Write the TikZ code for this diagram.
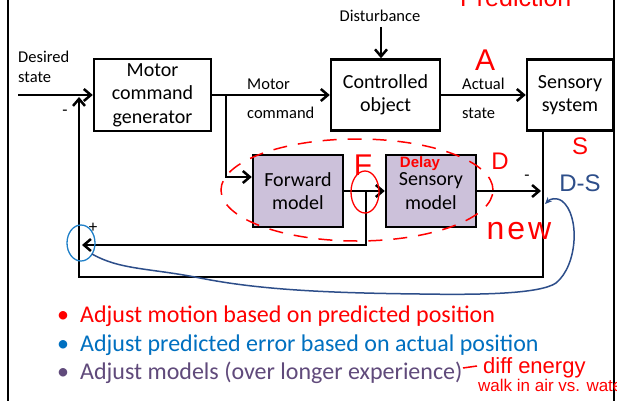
\documentclass[tikz,border=0pt]{standalone}
\usepackage{fontspec}
\setmainfont{Carlito}
\newfontfamily\hand{Liberation Sans}
\usetikzlibrary{arrows.meta}
\definecolor{modelfill}{HTML}{CCC1DA}
\definecolor{bulblue}{HTML}{0070C0}
\definecolor{bulpurple}{HTML}{604A7B}
\definecolor{circblue}{HTML}{2080C8}
\definecolor{penblue}{HTML}{2D4E8A}
\begin{document}
\begin{tikzpicture}[x=1pt,y=-1pt,
  box/.style={draw, line width=2.5pt, inner sep=0pt, align=center, font=\fontsize{20}{23.5}\selectfont},
  model/.style={box, fill=modelfill},
  lbl/.style={font=\fontsize{16.5}{19}\selectfont, inner sep=0pt, anchor=base west},
  sign/.style={font=\fontsize{17}{17}\selectfont, inner sep=0pt},
  arr/.style={line width=2.5pt, -{Straight Barb[length=7pt,width=12pt]}},
  redhand/.style={text=red, font=\hand\fontsize{#1}{#1}\selectfont, inner sep=0pt},
  bul/.style={font=\fontsize{24}{24}\selectfont, inner sep=0pt, anchor=base west},
  bdot/.style={font=\fontsize{24}{24}\selectfont, inner sep=0pt, anchor=base}
]
\useasboundingbox (0,0) rectangle (617,401);
\clip (0,0) rectangle (617,401);
\fill[white] (0,0) rectangle (617,401);
% slide frame
\coordinate (fl1) at (8,0); \coordinate (fl2) at (8,401);
\coordinate (fr1) at (614,0); \coordinate (fr2) at (614,401);
\draw[line width=2pt] (fl1) -- (fl2);
\draw[line width=2pt] (fr1) -- (fr2);

% boxes
\node[box, minimum width=117pt, minimum height=72pt] (mcg) at (152.5,95) {Motor\\command\\generator};
\node[box, minimum width=109pt, minimum height=71pt] (co) at (385.5,95) {Controlled\\object};
\node[box, minimum width=86pt, minimum height=71pt] (ss) at (570,95) {Sensory\\system};
\node[model, minimum width=90pt, minimum height=72pt] (fm) at (298,191) {Forward\\model};
\node[model, minimum width=90pt, minimum height=72pt] (sm) at (431,191) {Sensory\\model};

% labels
\node[lbl] (ds1) at (18,63) {Desired};
\node[lbl] (ds2) at (18,82) {state};
\node[lbl] (mc1) at (247,90) {Motor};
\node[lbl] (mc2) at (247,118) {command};
\node[lbl] (as1) at (462,89) {Actual};
\node[lbl] (as2) at (462,118) {state};
\node[lbl, anchor=base] (dist) at (380,22) {Disturbance};
\node[sign] (m1) at (65,113) {-};
\node[sign] (p1) at (93,228) {+};
\node[sign] (m2) at (527,178) {-};

% connectors
\coordinate (din) at (18,95);
\draw[arr] (din) -- (mcg.west);
\draw[arr] (mcg.east) -- (co.west);
\coordinate (b1) at (226,95);
\draw[arr] (b1) |- ([yshift=14pt]fm.west);
\coordinate (dtop) at (381,27);
\draw[arr] (dtop) -- (dtop |- co.north);
\draw[arr] (co.east) -- (ss.west);
\coordinate (c1) at (543,277);
\coordinate (c2) at (79,277);
\coordinate (j1) at (79,97);
\draw[arr] (c1 |- ss.south) -- (c1) -- (c2) -- (j1);
\draw[arr] (fm.east) -- (sm.west);
\coordinate (b2) at (366,191);
\coordinate (j2) at (82,245);
\draw[arr] (b2) |- (j2);
\coordinate (j3) at (541,191);
\draw[arr] (sm.east) -- (j3);

% red handwriting
\draw[red, line width=1.5pt, dash pattern=on 14pt off 11pt] (357,190) ellipse [x radius=136pt, y radius=51pt];
\draw[red, line width=1.3pt] (365,192) ellipse [x radius=14pt, y radius=21pt];
\node[redhand=25, anchor=base west] (pred) at (460,7) {Prediction};
\node[redhand=30] (A) at (485,60) {A};
\node[redhand=24] (S) at (580,146) {S};
\node[redhand=30] (F) at (363,165) {F};
\node[redhand=15] (delay) at (420,164) {\bfseries Delay};
\node[redhand=24] (D) at (500,161) {D};
\node[redhand=32] (new) at (519,231) {n\kern3pt e\kern3pt w};
\coordinate (dash1) at (463,368); \coordinate (dash2) at (477,366);
\draw[red, line width=1.5pt] (dash1) -- (dash2);
\node[redhand=22, anchor=base west] (diff) at (483,373) {diff~energy};
\node[redhand=17, anchor=base west] (walk) at (478,391) {walk in air vs. water};

% blue handwriting
\draw[circblue, line width=1.3pt] (81,243) ellipse [x radius=14pt, y radius=18pt];
\coordinate (cs) at (92,254);
\coordinate (ce) at (545,204);
\draw[penblue, line width=1.5pt, -{Stealth[length=7pt,width=6pt]}] (cs) .. controls (120,270) and (150,268) .. (200,278) .. controls (260,290) and (330,293) .. (420,294) .. controls (480,295) and (540,294) .. (556,283) .. controls (578,265) and (580,215) .. (562,201) .. controls (556,197) and (550,199) .. (ce);
\node[text=penblue, font=\hand\fontsize{24}{24}\selectfont, inner sep=0pt] (DS) at (580,183) {D-S};

% bullets
\node[bdot, text=red] (bu1) at (63,322) {•};
\node[bul, text=red] (t1) at (80,322) {Adjust motion based on predicted position};
\node[bdot, text=bulblue] (bu2) at (63,351) {•};
\node[bul, text=bulblue] (t2) at (80,351) {Adjust predicted error based on actual position};
\node[bdot, text=bulpurple] (bu3) at (63,379) {•};
\node[bul, text=bulpurple] (t3) at (80,379) {Adjust models (over longer experience)};
\end{tikzpicture}
\end{document}
